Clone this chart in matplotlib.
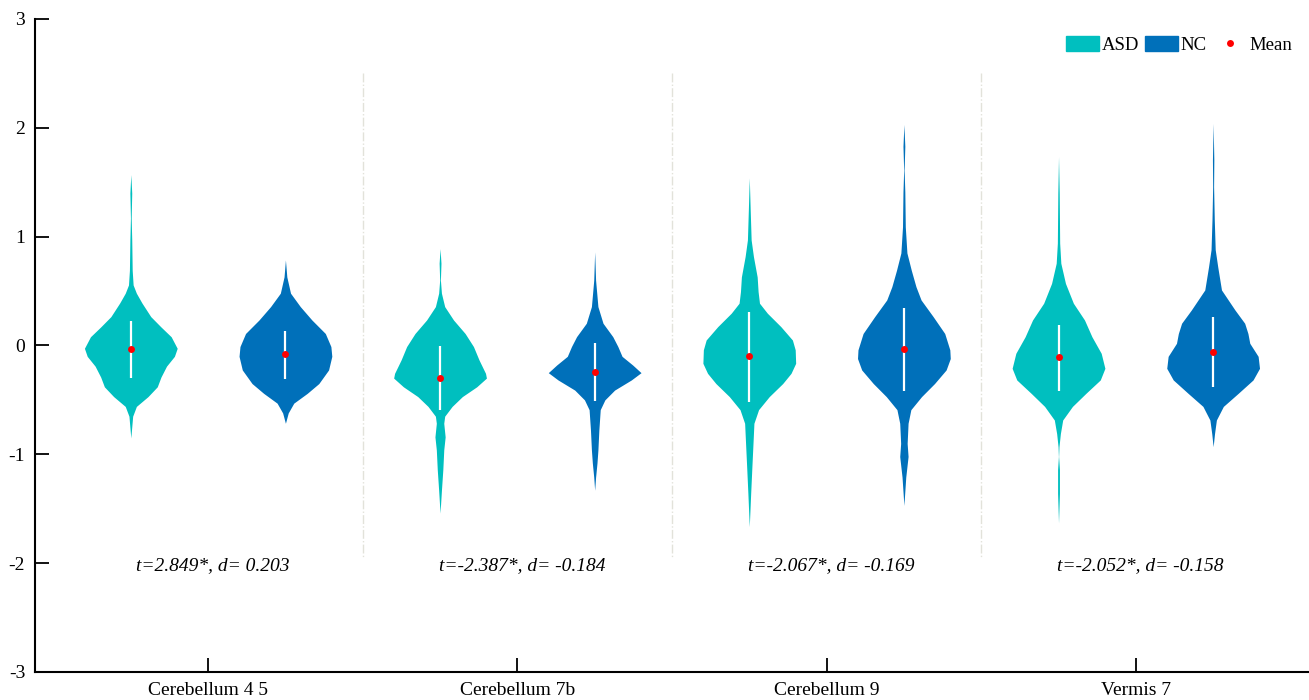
import matplotlib
matplotlib.use("Agg")
import matplotlib.pyplot as plt
from matplotlib.patches import Patch
from matplotlib.lines import Line2D

plt.rcParams['font.family'] = 'Liberation Serif'
plt.rcParams['font.size'] = 14
plt.rcParams['axes.unicode_minus'] = False

# groups and stats
groups = ['Cerebellum 4 5', 'Cerebellum 7b', 'Cerebellum 9', 'Vermis 7']
t_values = [2.849, -2.387, -2.067, -2.052]
d_values = [0.203, -0.184, -0.169, -0.158]

asd_mean = [-0.03, -0.30, -0.10, -0.11]
nc_mean = [-0.08, -0.245, -0.035, -0.06]
# white bars (lower / upper)
asd_lo = [-0.30, -0.59, -0.52, -0.415]
asd_hi = [0.225, -0.005, 0.31, 0.19]
nc_lo = [-0.31, -0.51, -0.42, -0.385]
nc_hi = [0.136, 0.02, 0.34, 0.26]

# violin outlines: y level and relative density (0-1)
asd1_y = [1.57, 1.40, 1.17, 0.97, 0.69, 0.556, 0.48, 0.39, 0.265, 0.17, 0.08, -0.026,
          -0.10, -0.19, -0.29, -0.38, -0.47, -0.56, -0.65, -0.85]
asd1_w = [0, 0.02, 0.008, 0.02, 0.03, 0.05, 0.12, 0.24, 0.43, 0.65, 0.87, 1.0,
          0.94, 0.77, 0.65, 0.57, 0.37, 0.12, 0.04, 0]
nc1_y = [0.786, 0.63, 0.48, 0.357, 0.234, 0.11, -0.01, -0.10, -0.225, -0.35, -0.44,
         -0.53, -0.62, -0.715]
nc1_w = [0, 0.03, 0.11, 0.32, 0.57, 0.86, 0.98, 1.0, 0.93, 0.72, 0.47, 0.18, 0.06, 0]

asd2_y = [0.89, 0.755, 0.60, 0.48, 0.357, 0.234, 0.11, -0.01, -0.133, -0.256, -0.30,
          -0.38, -0.47, -0.56, -0.65, -0.715, -0.84, -0.96, -1.14, -1.33, -1.54]
asd2_w = [0, 0.02, 0.008, 0.03, 0.10, 0.29, 0.54, 0.72, 0.84, 0.98, 1.0,
          0.79, 0.48, 0.26, 0.10, 0.08, 0.11, 0.08, 0.06, 0.03, 0]
nc2_y = [0.86, 0.60, 0.357, 0.204, 0.081, -0.01, -0.10, -0.18, -0.25, -0.317, -0.41,
         -0.50, -0.59, -0.78, -0.96, -1.08, -1.21, -1.33]
nc2_w = [0, 0.02, 0.07, 0.18, 0.39, 0.50, 0.59, 0.82, 1.0, 0.79, 0.43,
         0.22, 0.12, 0.09, 0.07, 0.05, 0.02, 0]

asd3_y = [1.54, 1.245, 0.97, 0.816, 0.63, 0.495, 0.388, 0.296, 0.173, 0.05, -0.04,
          -0.164, -0.256, -0.35, -0.47, -0.59, -0.715, -0.90, -1.08, -1.36, -1.665]
asd3_w = [0, 0.02, 0.04, 0.09, 0.17, 0.19, 0.22, 0.39, 0.68, 0.93, 0.99,
          1.0, 0.90, 0.72, 0.43, 0.20, 0.10, 0.08, 0.06, 0.03, 0]
nc3_y = [2.03, 1.83, 1.61, 1.41, 1.09, 0.85, 0.69, 0.54, 0.418, 0.265, 0.11, -0.04,
         -0.12, -0.225, -0.35, -0.47, -0.59, -0.715, -0.90, -1.02, -1.21, -1.47]
nc3_w = [0, 0.02, 0.005, 0.02, 0.03, 0.065, 0.16, 0.26, 0.37, 0.63, 0.88, 0.99,
         1.0, 0.91, 0.66, 0.38, 0.15, 0.09, 0.07, 0.09, 0.04, 0]

asd4_y = [1.735, 1.40, 0.94, 0.755, 0.57, 0.388, 0.234, 0.08, -0.072, -0.21, -0.317,
          -0.44, -0.56, -0.685, -0.81, -0.93, -1.02, -1.14, -1.36, -1.63]
asd4_w = [0, 0.015, 0.025, 0.05, 0.15, 0.32, 0.56, 0.72, 0.92, 1.0, 0.90,
          0.59, 0.30, 0.09, 0.04, 0.01, 0.002, 0.02, 0.02, 0]
nc4_y = [2.04, 1.705, 1.46, 1.15, 0.88, 0.72, 0.51, 0.326, 0.204, 0.11, 0.02, -0.10,
         -0.21, -0.317, -0.44, -0.56, -0.685, -0.81, -0.93]
nc4_w = [0, 0.015, 0.01, 0.025, 0.045, 0.10, 0.18, 0.47, 0.68, 0.75, 0.79, 0.97,
         1.0, 0.86, 0.54, 0.22, 0.07, 0.03, 0]

asd_shapes = [(asd1_y, asd1_w), (asd2_y, asd2_w), (asd3_y, asd3_w), (asd4_y, asd4_w)]
nc_shapes = [(nc1_y, nc1_w), (nc2_y, nc2_w), (nc3_y, nc3_w), (nc4_y, nc4_w)]

asd_color = '#00BFBF'
nc_color = '#0070BA'
half_width = 0.15
offset = 0.25

fig = plt.figure(figsize=(13.09, 7.0), dpi=100)
ax = fig.add_axes([0.0267, 0.04, 0.9733, 0.933])

for i in range(len(groups)):
    pos = i + 1
    for shape, color, mean, lo, hi, x in [
            (asd_shapes[i], asd_color, asd_mean[i], asd_lo[i], asd_hi[i], pos - offset),
            (nc_shapes[i], nc_color, nc_mean[i], nc_lo[i], nc_hi[i], pos + offset)]:
        ys, ws = shape
        left = [x - w * half_width for w in ws]
        right = [x + w * half_width for w in ws]
        ax.fill_betweenx(ys, left, right, color=color, linewidth=0)
        ax.plot([x, x], [lo, hi], color='white', lw=1.6, solid_capstyle='butt', zorder=3)
        ax.plot(x, mean, 'o', color='red', ms=5, mec='none', zorder=4)
    ax.text(pos + 0.015, -2.02, f"t={t_values[i]:.3f}*, d= {d_values[i]:.3f}",
            ha='center', va='center', fontstyle='italic', fontsize=14)

# dividers between groups
for xd in [1.5, 2.5, 3.5]:
    ax.plot([xd, xd], [2.5, -1.95], color='#e2e2da', lw=1, ls='-.', zorder=0)

ax.set_xlim(0.44, 4.56)
ax.set_ylim(-3, 3)
ax.set_xticks(range(1, len(groups) + 1))
ax.set_xticklabels(groups)
ax.set_yticks(range(-3, 4))
ax.spines['top'].set_visible(False)
ax.spines['right'].set_visible(False)
ax.spines['left'].set_linewidth(1.5)
ax.spines['bottom'].set_linewidth(1.5)
ax.tick_params(axis='y', direction='in', length=10, width=1.3, pad=7)
ax.tick_params(axis='x', direction='in', length=10, width=1.3, pad=7.5)

handles = [Patch(color=asd_color, label='ASD'),
           Patch(color=nc_color, label='NC'),
           Line2D([], [], marker='o', ls='none', color='red', ms=5, mec='none', label='Mean')]
ax.legend(handles=handles, loc='upper right', bbox_to_anchor=(1.0, 1.0), ncol=3,
          frameon=False, fontsize=13.5, handlelength=1.75, handleheight=0.9,
          handletextpad=0.15, columnspacing=0.35)

fig.savefig('out.png', dpi=100)
